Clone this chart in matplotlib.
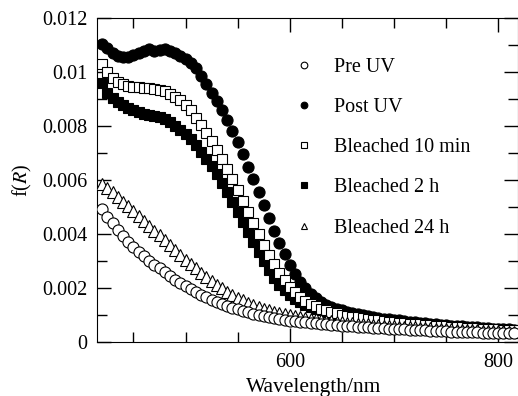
import numpy as np
import matplotlib
matplotlib.use('Agg')
from matplotlib import pyplot as plt
from matplotlib.ticker import MultipleLocator, FixedLocator

plt.rcParams['font.family'] = ['Liberation Serif', 'DejaVu Serif']
plt.rcParams['mathtext.fontset'] = 'stix'

# wavelength grid (nm), one reading every 5 nm
wavelength = np.arange(420, 820, 5)

pre_uv = [
    0.00495, 0.00465, 0.00440, 0.00415, 0.00392, 0.00372, 0.00352, 0.00335, 0.00318, 0.00302,
    0.00288, 0.00274, 0.00260, 0.00246, 0.00232, 0.00220, 0.00208, 0.00197, 0.00186, 0.00176,
    0.00167, 0.00158, 0.00150, 0.00142, 0.00135, 0.00128, 0.00122, 0.00116, 0.00111, 0.00106,
    0.00101, 0.00097, 0.00093, 0.00089, 0.00086, 0.00083, 0.00080, 0.00078, 0.00076, 0.00074,
    0.00072, 0.00070, 0.00068, 0.00066, 0.00065, 0.00063, 0.00062, 0.00060, 0.00059, 0.00058,
    0.00057, 0.00055, 0.00054, 0.00053, 0.00052, 0.00051, 0.00050, 0.00049, 0.00048, 0.00047,
    0.00046, 0.00045, 0.00044, 0.00043, 0.00042, 0.00042, 0.00041, 0.00040, 0.00039, 0.00039,
    0.00038, 0.00037, 0.00037, 0.00036, 0.00035, 0.00035, 0.00034, 0.00034, 0.00033, 0.00033]

post_uv = [
    0.01105, 0.01090, 0.01072, 0.01060, 0.01055, 0.01058, 0.01065, 0.01070, 0.01078, 0.01085,
    0.01080, 0.01082, 0.01085, 0.01080, 0.01072, 0.01062, 0.01048, 0.01035, 0.01015, 0.00985,
    0.00955, 0.00925, 0.00895, 0.00860, 0.00822, 0.00782, 0.00740, 0.00696, 0.00650, 0.00603,
    0.00555, 0.00507, 0.00460, 0.00413, 0.00368, 0.00326, 0.00288, 0.00254, 0.00225, 0.00200,
    0.00180, 0.00164, 0.00151, 0.00140, 0.00131, 0.00124, 0.00118, 0.00113, 0.00108, 0.00104,
    0.00100, 0.00097, 0.00094, 0.00091, 0.00088, 0.00086, 0.00083, 0.00081, 0.00079, 0.00077,
    0.00075, 0.00073, 0.00071, 0.00069, 0.00067, 0.00065, 0.00063, 0.00062, 0.00060, 0.00059,
    0.00057, 0.00056, 0.00055, 0.00053, 0.00052, 0.00051, 0.00050, 0.00049, 0.00048, 0.00047]

bleached_10min = [
    0.01030, 0.01000, 0.00980, 0.00965, 0.00955, 0.00948, 0.00945, 0.00945, 0.00942, 0.00940,
    0.00938, 0.00935, 0.00930, 0.00920, 0.00910, 0.00896, 0.00880, 0.00860, 0.00832, 0.00805,
    0.00775, 0.00745, 0.00712, 0.00678, 0.00642, 0.00604, 0.00565, 0.00525, 0.00484, 0.00443,
    0.00402, 0.00362, 0.00325, 0.00290, 0.00258, 0.00230, 0.00205, 0.00185, 0.00168, 0.00154,
    0.00143, 0.00133, 0.00125, 0.00118, 0.00112, 0.00107, 0.00102, 0.00098, 0.00095, 0.00092,
    0.00089, 0.00086, 0.00084, 0.00081, 0.00079, 0.00077, 0.00075, 0.00073, 0.00071, 0.00069,
    0.00068, 0.00066, 0.00065, 0.00063, 0.00062, 0.00060, 0.00059, 0.00058, 0.00056, 0.00055,
    0.00054, 0.00053, 0.00052, 0.00051, 0.00050, 0.00049, 0.00048, 0.00047, 0.00046, 0.00045]

bleached_2h = [
    0.00960, 0.00925, 0.00905, 0.00890, 0.00878, 0.00868, 0.00860, 0.00853, 0.00847, 0.00842,
    0.00838, 0.00834, 0.00826, 0.00815, 0.00802, 0.00788, 0.00772, 0.00752, 0.00730, 0.00706,
    0.00680, 0.00652, 0.00622, 0.00590, 0.00556, 0.00520, 0.00483, 0.00445, 0.00407, 0.00370,
    0.00335, 0.00300, 0.00268, 0.00240, 0.00214, 0.00192, 0.00174, 0.00160, 0.00148, 0.00139,
    0.00131, 0.00124, 0.00118, 0.00113, 0.00108, 0.00104, 0.00100, 0.00097, 0.00094, 0.00091,
    0.00088, 0.00086, 0.00084, 0.00082, 0.00080, 0.00078, 0.00076, 0.00074, 0.00072, 0.00070,
    0.00069, 0.00067, 0.00066, 0.00064, 0.00063, 0.00061, 0.00060, 0.00059, 0.00057, 0.00056,
    0.00055, 0.00054, 0.00053, 0.00052, 0.00051, 0.00050, 0.00049, 0.00048, 0.00047, 0.00046]

bleached_24h = [
    0.00585, 0.00570, 0.00555, 0.00538, 0.00520, 0.00503, 0.00485, 0.00467, 0.00449, 0.00432,
    0.00414, 0.00396, 0.00378, 0.00360, 0.00342, 0.00324, 0.00306, 0.00290, 0.00274, 0.00258,
    0.00243, 0.00228, 0.00214, 0.00200, 0.00188, 0.00176, 0.00165, 0.00155, 0.00146, 0.00138,
    0.00131, 0.00125, 0.00119, 0.00114, 0.00109, 0.00105, 0.00101, 0.00097, 0.00094, 0.00091,
    0.00088, 0.00085, 0.00082, 0.00080, 0.00078, 0.00076, 0.00074, 0.00072, 0.00070, 0.00069,
    0.00067, 0.00066, 0.00064, 0.00063, 0.00062, 0.00060, 0.00059, 0.00058, 0.00057, 0.00056,
    0.00055, 0.00054, 0.00053, 0.00052, 0.00051, 0.00050, 0.00049, 0.00048, 0.00047, 0.00046,
    0.00046, 0.00045, 0.00044, 0.00043, 0.00043, 0.00042, 0.00041, 0.00041, 0.00040, 0.00040]

y_ticks = [0, 0.002, 0.004, 0.006, 0.008, 0.01, 0.012]
y_tick_labels = ['0', '0.002', '0.004', '0.006', '0.008', '0.01', '0.012']
x_ticks = [600, 800]

fig = plt.figure(figsize=(5.18, 3.96), dpi=100)
ax = fig.add_axes([0.1873, 0.1356, 0.8127, 0.8182])

kw = dict(linestyle='none', markeredgecolor='black', markeredgewidth=0.8)
h_post, = ax.plot(wavelength, post_uv, marker='o', markersize=8,
                  markerfacecolor='black', label='Post UV', zorder=2, **kw)
h_2h, = ax.plot(wavelength, bleached_2h, marker='s', markersize=7.5,
                markerfacecolor='black', label='Bleached 2 h', zorder=3, **kw)
h_10, = ax.plot(wavelength, bleached_10min, marker='s', markersize=7.5,
                markerfacecolor='white', label='Bleached 10 min', zorder=4, **kw)
h_24, = ax.plot(wavelength, bleached_24h, marker='^', markersize=8,
                markerfacecolor='white', label='Bleached 24 h', zorder=5, **kw)
h_pre, = ax.plot(wavelength, pre_uv, marker='o', markersize=8,
                 markerfacecolor='white', label='Pre UV', zorder=6, **kw)

ax.set_xlim(415, 819)
ax.set_ylim(0, 0.012)
ax.xaxis.set_major_locator(FixedLocator(x_ticks))
ax.xaxis.set_minor_locator(MultipleLocator(50))
ax.set_yticks(y_ticks)
ax.set_yticklabels(y_tick_labels)
ax.yaxis.set_minor_locator(MultipleLocator(0.001))

ax.tick_params(which='both', direction='in', top=True, right=True, labelsize=14.5)
ax.tick_params(which='major', length=10, width=1)
ax.tick_params(which='minor', length=7, width=1)
ax.tick_params(axis='x', pad=8)
ax.tick_params(axis='y', pad=7)

ax.set_xlabel('Wavelength/nm', fontsize=15.5, labelpad=2)
ax.xaxis.set_label_coords(0.515, -0.11)
ax.set_ylabel('f($R$)', fontsize=14.5, labelpad=6)

ax.legend(handles=[h_pre, h_post, h_10, h_2h, h_24], loc='upper left',
          bbox_to_anchor=(0.42, 0.935), frameon=False, fontsize=14.5,
          markerscale=0.6, labelspacing=1.05, handletextpad=0.9,
          handlelength=1.2)

fig.savefig('out.png', dpi=100)
